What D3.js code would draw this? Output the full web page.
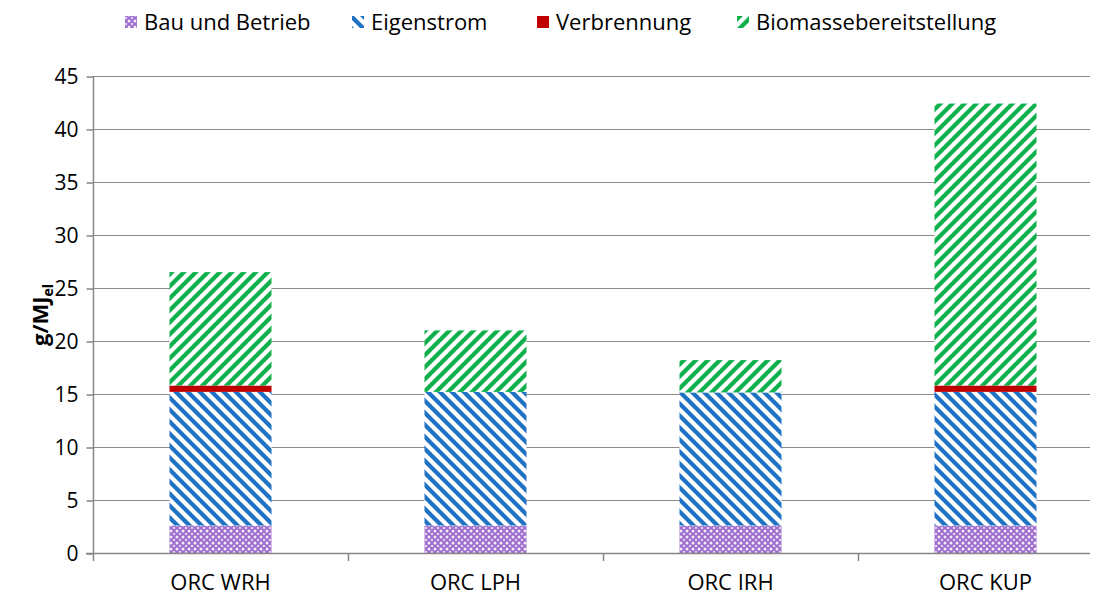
<!DOCTYPE html>
<html>
<head>
<meta charset="utf-8">
<script src="https://cdn.jsdelivr.net/npm/d3@7"></script>
<style>
  body { margin: 0; background: #fff; }
  svg { display: block; font-family: "Open Sans", sans-serif; }
</style>
</head>
<body>
<svg id="chart" width="1101" height="597"></svg>
<script>
// Plant variants on the x axis
const categories = ["ORC WRH", "ORC LPH", "ORC IRH", "ORC KUP"];
// Stacked components (g/MJ_el)
const bauUndBetrieb = [2.6, 2.6, 2.6, 2.6];
const eigenstrom = [12.6, 12.6, 12.55, 12.6];
const verbrennung = [0.6, 0.0, 0.0, 0.6];
const biomasse = [10.7, 5.8, 3.05, 26.6];
const seriesNames = ["Bau und Betrieb", "Eigenstrom", "Verbrennung", "Biomassebereitstellung"];
const yTicks = [0, 5, 10, 15, 20, 25, 30, 35, 40, 45];

const svg = d3.select("#chart");
const defs = svg.append("defs");

// Hatch patterns
function stripes(id, color, dir) {
  const p = defs.append("pattern").attr("id", id)
    .attr("patternUnits", "userSpaceOnUse").attr("width", 12).attr("height", 12);
  p.append("rect").attr("width", 12).attr("height", 12).attr("fill", "#fff");
  const lines = dir > 0
    ? [[-3, 3, 3, -3], [0, 12, 12, 0], [9, 15, 15, 9]]
    : [[-3, 9, 3, 15], [0, 0, 12, 12], [9, -3, 15, 3]];
  lines.forEach(l => p.append("line")
    .attr("x1", l[0]).attr("y1", l[1]).attr("x2", l[2]).attr("y2", l[3])
    .attr("stroke", color).attr("stroke-width", 4.2));
}
stripes("pEigen", "#1f72c4", -1);
stripes("pBio", "#0db04b", 1);

const lat = defs.append("pattern").attr("id", "pBau")
  .attr("patternUnits", "userSpaceOnUse").attr("width", 6).attr("height", 6);
lat.append("rect").attr("width", 6).attr("height", 6).attr("fill", "#9d6ccc");
lat.append("circle").attr("cx", 3).attr("cy", 3).attr("r", 1.5).attr("fill", "#f3ebfa");
lat.append("circle").attr("cx", 0).attr("cy", 0).attr("r", 1.3).attr("fill", "#e2d1f2");
lat.append("circle").attr("cx", 6).attr("cy", 0).attr("r", 1.3).attr("fill", "#e2d1f2");
lat.append("circle").attr("cx", 0).attr("cy", 6).attr("r", 1.3).attr("fill", "#e2d1f2");
lat.append("circle").attr("cx", 6).attr("cy", 6).attr("r", 1.3).attr("fill", "#e2d1f2");

const fills = ["url(#pBau)", "url(#pEigen)", "#c00000", "url(#pBio)"];

const x0 = 93, xEnd = 1113, plotRight = 1090;
const y = d3.scaleLinear().domain([0, 45]).range([553, 76]);
const x = d3.scaleBand().domain(categories).range([x0, xEnd]).paddingInner(0.6).paddingOuter(0.3);

// Gridlines
svg.append("g").selectAll("line").data(yTicks.filter(t => t > 0)).join("line")
  .attr("x1", x0).attr("x2", plotRight)
  .attr("y1", d => y(d) + 0.5).attr("y2", d => y(d) + 0.5)
  .attr("stroke", "#8c8c8c").attr("stroke-width", 1);

// Stacked bars
const table = categories.map((c, i) => ({
  cat: c, s0: bauUndBetrieb[i], s1: eigenstrom[i], s2: verbrennung[i], s3: biomasse[i]
}));
const stack = d3.stack().keys(["s0", "s1", "s2", "s3"])(table);
svg.append("g").selectAll("g").data(stack).join("g")
  .attr("fill", (d, i) => fills[i])
  .selectAll("rect").data(d => d).join("rect")
  .attr("x", d => x(d.data.cat))
  .attr("width", x.bandwidth())
  .attr("y", d => y(d[1]))
  .attr("height", d => y(d[0]) - y(d[1]));

// Y axis
const yAxis = d3.axisLeft(y).tickValues(yTicks).tickSize(7).tickPadding(8);
const gy = svg.append("g").attr("transform", `translate(${x0 + 0.5},0.5)`).call(yAxis);
gy.select(".domain").attr("stroke", "#868686").attr("stroke-width", 1.5).attr("d", `M0,${y(45)}V${y(0)}`);
gy.selectAll(".tick line").attr("stroke", "#868686").attr("stroke-width", 1.5);
gy.selectAll(".tick text").attr("fill", "#000").style("font-size", "21px").style("font-family", "'Open Sans', sans-serif");

// X axis line and category separators
svg.append("line").attr("x1", x0 - 7).attr("x2", plotRight)
  .attr("y1", y(0) + 0.5).attr("y2", y(0) + 0.5)
  .attr("stroke", "#868686").attr("stroke-width", 1.5);
const step = x.step();
svg.append("g").selectAll("line").data(d3.range(categories.length + 1)).join("line")
  .attr("x1", i => x0 + 0.5 + i * step).attr("x2", i => x0 + 0.5 + i * step)
  .attr("y1", y(0)).attr("y2", y(0) + 8)
  .attr("stroke", "#868686").attr("stroke-width", 1.5);
svg.append("g").selectAll("text").data(categories).join("text")
  .attr("x", d => x(d) + x.bandwidth() / 2).attr("y", 590)
  .attr("text-anchor", "middle").style("font-size", "22px").text(d => d);

// Y axis title with subscript
const yt = svg.append("text").attr("transform", "translate(48,315) rotate(-90)")
  .attr("text-anchor", "middle").style("font-size", "22px").style("font-weight", "bold");
yt.append("tspan").text("g/MJ");
yt.append("tspan").attr("dy", 5).style("font-size", "14px").text("el");

// Legend
const legendTextX = [144, 371, 556, 756];
const lg = svg.append("g").selectAll("g").data(seriesNames).join("g")
  .attr("transform", (d, i) => `translate(${legendTextX[i]},0)`);
lg.append("rect").attr("x", -19).attr("y", 16).attr("width", 12).attr("height", 12)
  .attr("fill", (d, i) => fills[i]);
lg.append("text").attr("x", 0).attr("y", 30).style("font-size", "22px").text(d => d);
</script>
</body>
</html>
